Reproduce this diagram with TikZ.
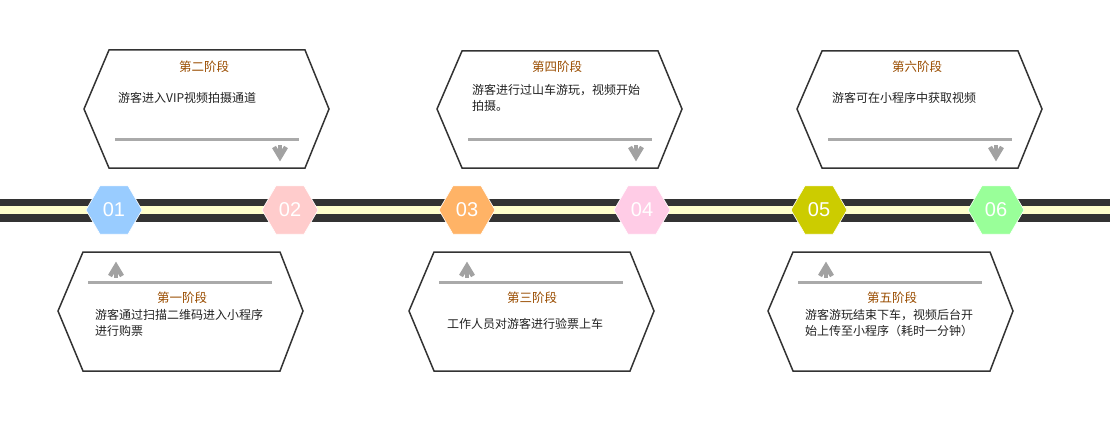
\documentclass[tikz,border=0pt]{standalone}
\usepackage{fontspec}
\setmainfont{Liberation Sans}
\newfontfamily\cjk{Noto Sans CJK SC}
\usetikzlibrary{shapes.geometric}
\definecolor{band}{HTML}{333333}
\definecolor{bandin}{HTML}{FFFFCC}
\definecolor{edge}{HTML}{333333}
\definecolor{ttl}{HTML}{994C00}
\definecolor{rule}{HTML}{AAAAAA}
\definecolor{hA}{HTML}{99CCFF}
\definecolor{hB}{HTML}{FFCCCC}
\definecolor{hC}{HTML}{FFB366}
\definecolor{hD}{HTML}{FFCCE6}
\definecolor{hE}{HTML}{CCCC00}
\definecolor{hF}{HTML}{99FF99}
\definecolor{bodytxt}{HTML}{222222}
\tikzset{
  hexnum/.style={regular polygon, regular polygon sides=6, minimum size=56pt, inner sep=0pt, draw=white, line width=0.6pt, text=white, font=\fontsize{20}{20}\selectfont},
  stagebox/.style={draw=edge, line width=1.5pt, line join=miter},
  stagetitle/.style={text=ttl, font=\cjk\fontsize{12.5}{14}\selectfont, inner sep=0pt},
  stagetext/.style={text=bodytxt, font=\cjk\fontsize{12}{16.5}\selectfont, inner sep=0pt, align=left},
  ruleline/.style={draw=rule, line width=3pt},
  arrowmark/.style={draw=rule!95!black, line width=4.5pt, line join=miter, line cap=butt}
}
\newcommand{\downmark}[1]{%
  \draw[arrowmark] (#1,145) -- (#1,158);
  \draw[arrowmark] (#1-6,147) -- (#1,157) -- (#1+6,147);}
\newcommand{\upmark}[1]{%
  \draw[arrowmark] (#1,265) -- (#1,278);
  \draw[arrowmark] (#1-6,276) -- (#1,266) -- (#1+6,276);}
\begin{document}
\begin{tikzpicture}[x=1pt,y=-1pt]
\useasboundingbox (0,0) rectangle (1110,433);
% band
\fill[band] (0,199) rectangle (1110,222);
\fill[bandin] (0,206) rectangle (1110,214);
% number hexagons
\node[hexnum, fill=hA] (n1) at (114,210) {01};
\node[hexnum, fill=hB] (n2) at (290,210) {02};
\node[hexnum, fill=hC] (n3) at (467,210) {03};
\node[hexnum, fill=hD] (n4) at (642,210) {04};
\node[hexnum, fill=hE] (n5) at (819,210) {05};
\node[hexnum, fill=hF] (n6) at (996,210) {06};

% ---------- top boxes ----------
% stage 2
\draw[stagebox] (84,109) -- (109,50) -- (305,50) -- (329,109) -- (305,168) -- (109,168) -- cycle;
\node[stagetitle] (t2) at (204,67) {第二阶段};
\node[stagetext, anchor=west] (x2) at (118,98) {游客进入VIP视频拍摄通道};
\draw[ruleline] (115,139) -- (299,139);
\downmark{280}
% stage 4
\draw[stagebox] (437,109) -- (462,51) -- (658,51) -- (682,109) -- (658,168) -- (462,168) -- cycle;
\node[stagetitle] (t4) at (557,67) {第四阶段};
\node[stagetext, anchor=north west] (x4) at (472,84) {游客进行过山车游玩，视频开始\\拍摄。};
\draw[ruleline] (468,139) -- (652,139);
\downmark{636}
% stage 6
\draw[stagebox] (797,109) -- (822,51) -- (1018,51) -- (1042,109) -- (1018,168) -- (822,168) -- cycle;
\node[stagetitle] (t6) at (917,67) {第六阶段};
\node[stagetext, anchor=west] (x6) at (832,98) {游客可在小程序中获取视频};
\draw[ruleline] (828,139) -- (1012,139);
\downmark{996}

% ---------- bottom boxes ----------
% stage 1
\draw[stagebox] (58,311) -- (83,252) -- (280,252) -- (303,311) -- (280,371) -- (83,371) -- cycle;
\upmark{116}
\draw[ruleline] (88,282.5) -- (272,282.5);
\node[stagetitle] (t1) at (182,298) {第一阶段};
\node[stagetext, anchor=north west] (x1) at (95,309) {游客通过扫描二维码进入小程序\\进行购票};
% stage 3
\draw[stagebox] (409,311) -- (434,252) -- (630,252) -- (654,311) -- (630,371) -- (434,371) -- cycle;
\upmark{467}
\draw[ruleline] (439,282.5) -- (623,282.5);
\node[stagetitle] (t3) at (532,298) {第三阶段};
\node[stagetext, anchor=west] (x3) at (447,324) {工作人员对游客进行验票上车};
% stage 5
\draw[stagebox] (768,311) -- (793,252) -- (990,252) -- (1013,311) -- (990,371) -- (793,371) -- cycle;
\upmark{826}
\draw[ruleline] (798,282.5) -- (982,282.5);
\node[stagetitle] (t5) at (892,298) {第五阶段};
\node[stagetext, anchor=north west] (x5) at (805,309) {游客游玩结束下车，视频后台开\\始上传至小程序（耗时一分钟）};
\end{tikzpicture}
\end{document}
